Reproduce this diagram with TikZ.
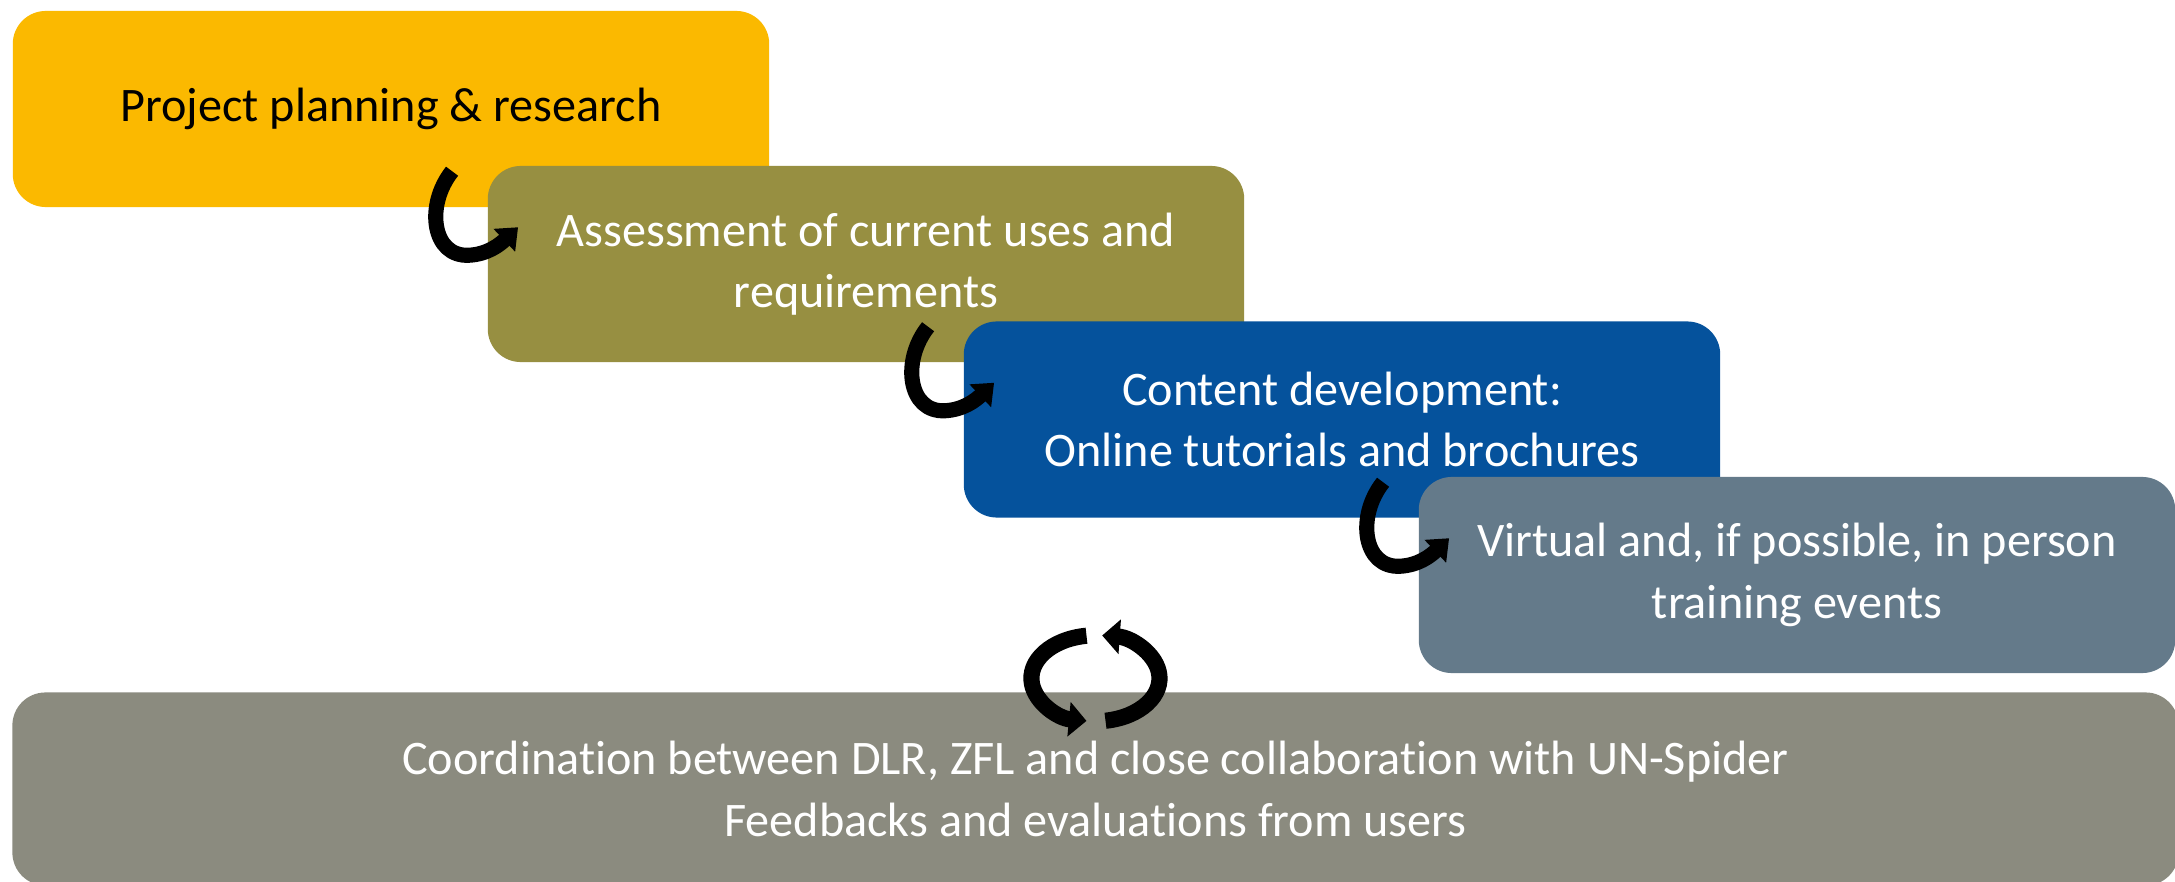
\documentclass[tikz,border=0pt]{standalone}
\usepackage{fontspec}
\setmainfont{Carlito}[Ligatures=NoCommon]
\usetikzlibrary{calc,arrows.meta}

\definecolor{planyellow}{HTML}{FBB900}
\definecolor{assessolive}{HTML}{978F41}
\definecolor{contentblue}{HTML}{05529C}
\definecolor{trainslate}{HTML}{647A8A}
\definecolor{coordgray}{HTML}{8B8B7F}

% hook arrow leading into the next step, placed at its north west corner
\tikzset{pics/steparrow/.style={code={
    \draw[hookarrow] (-35,6) .. controls (-62,40) and (-55,92) .. (-18,90)
        .. controls (0,89) and (12,80) .. (31,62);
}}}

\begin{document}
\begin{tikzpicture}[x=0.01cm,y=-0.01cm,
    stepbox/.style={rectangle,rounded corners=0.33cm,minimum width=7.56cm,
        minimum height=1.96cm,inner sep=0pt,align=center,text=white,
        font=\fontsize{13.7}{17.4}\selectfont},
    hookarrow/.style={line width=4.3pt,-{Triangle[width=8.6pt,length=5.4pt]}},
    looparrow/.style={line width=4.6pt,-{Triangle[width=9.6pt,length=5pt]}}]

    \useasboundingbox (0,0) rectangle (2175,882);

    \node[stepbox,fill=planyellow,text=black] (plan) at (391,109)
        {Project planning \& research};
    \node[stepbox,fill=assessolive] (assess) at ([shift={(475,155)}]plan)
        {Assessment of current uses and\\requirements};
    \node[stepbox,fill=contentblue] (content) at ([shift={(476,155.5)}]assess)
        {Content development:\\Online tutorials and brochures};
    \node[stepbox,fill=trainslate] (train) at ([shift={(455,155.5)}]content)
        {Virtual and, if possible, in person\\training events};

    \node[stepbox,fill=coordgray,minimum width=21.65cm,minimum height=1.93cm]
        (coord) at (1095.5,789)
        {Coordination between DLR, ZFL and close collaboration with UN-Spider\\
         Feedbacks and evaluations from users};

    \pic at (assess.north west) {steparrow};
    \pic at (content.north west) {steparrow};
    \pic at (train.north west) {steparrow};

    % the two arrows going round each other
    \coordinate (loop) at ([shift={(0,-13)}]coord.north);
    \draw[looparrow] ([shift={(-9,-43)}]loop)
        arc[start angle=-98,end angle=-262,x radius=64,y radius=43];
    \draw[looparrow] ([shift={(10,42)}]loop)
        arc[start angle=81,end angle=-84,x radius=64,y radius=43];
\end{tikzpicture}
\end{document}
